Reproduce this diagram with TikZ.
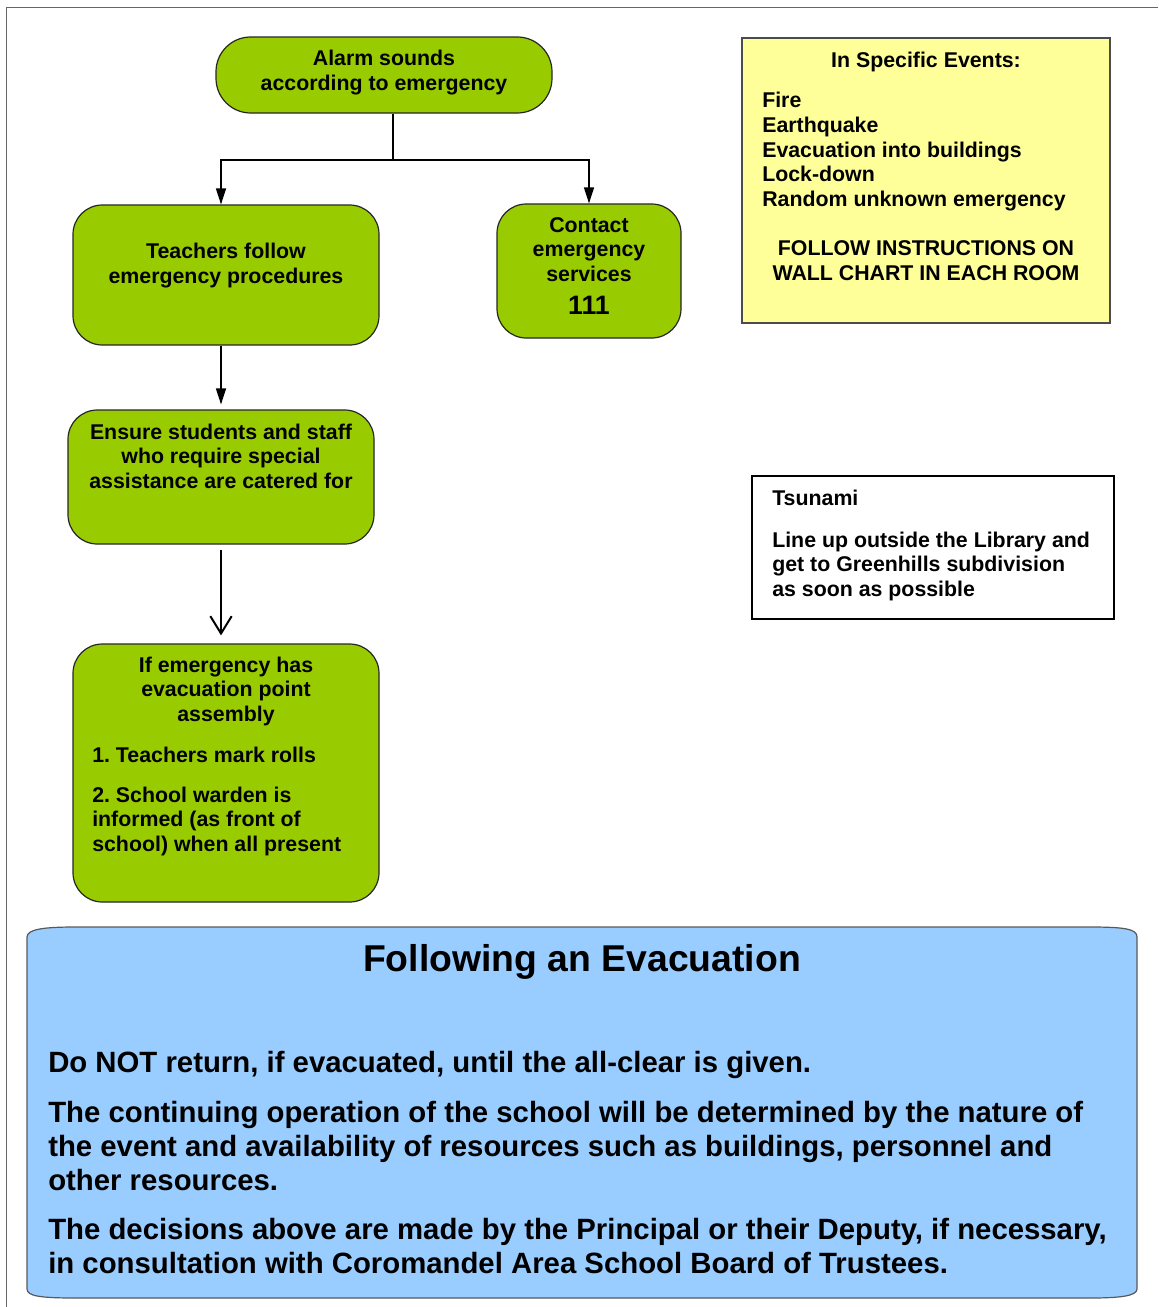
\documentclass[tikz,border=0pt]{standalone}
\usepackage{fontspec}
\setmainfont{Liberation Sans}
\usetikzlibrary{arrows.meta}
\definecolor{grn}{HTML}{99CC00}
\definecolor{ylw}{HTML}{FFFF99}
\definecolor{blu}{HTML}{99CCFF}
\frenchspacing
\begin{document}
\begin{tikzpicture}[x=0.75pt,y=-0.75pt,
  gbox/.style={draw=black!85, fill=grn, line width=0.9pt, rounded corners=22pt, inner sep=0pt},
  sqbox/.style={draw=black!70, line width=0.9pt, inner sep=0pt},
  conn/.style={draw=black, line width=1pt},
  tipA/.style={-{Triangle[length=12pt,width=7.5pt]}},
  tipB/.style={-{Straight Barb[length=13pt,width=16pt,line width=1.5pt]}},
  tsm/.style={font=\fontsize{16}{18.4}\selectfont\bfseries, inner sep=0pt},
  tyl/.style={font=\fontsize{16}{18.56}\selectfont\bfseries, inner sep=0pt},
  tbig/.style={font=\fontsize{22}{25.5}\selectfont\bfseries, inner sep=0pt, align=left},
]
\useasboundingbox (0,0) rectangle (1158,1307);
% page frame
\draw[black!60, line width=0.75pt] (6,1307) -- (6,7) -- (1158,7);

% boxes
\node[gbox, rounded corners=26pt, minimum width=252pt, minimum height=57pt] (alarm) at (384,75) {};
\node[gbox, minimum width=229.5pt, minimum height=105pt] (teach) at (226,275) {};
\node[gbox, minimum width=138pt, minimum height=100.5pt] (contact) at (589,271) {};
\node[gbox, minimum width=229.5pt, minimum height=100.5pt] (ensure) at (221,477) {};
\node[gbox, minimum width=229.5pt, minimum height=193.5pt] (ifbox) at (226,773) {};
\node[sqbox, fill=ylw, minimum width=276pt, minimum height=213.75pt] (events) at (926,180.5) {};
\node[sqbox, draw=black, fill=white, minimum width=271.5pt, minimum height=107.25pt] (tsunami) at (933,547.5) {};

% blue tape
\draw[draw=black!65, fill=blu, line width=0.9pt]
  (27,937) .. controls (27,929) and (45,927) .. (75,927) -- (1090,927)
  .. controls (1125,927) and (1137,929) .. (1137,937) -- (1137,1289)
  .. controls (1137,1296) and (1120,1298) .. (1090,1298) -- (75,1298)
  .. controls (40,1298) and (27,1296) .. (27,1289) -- cycle;

% connectors
\coordinate (j) at (393,160);
\draw[conn] (alarm.south -| j) -- (j);
\draw[conn, tipA] (j) -| ([xshift=-3.75pt]teach.north);
\draw[conn, tipA] (j) -| (contact.north);
\draw[conn, tipA, shorten >=3.75pt] ([xshift=-3.75pt]teach.south) -- ([xshift=-3.75pt]teach.south |- ensure.north);
\draw[conn, line width=1.5pt, tipB, shorten <=3.75pt, shorten >=6pt] (ensure.south) -- (ensure.south |- ifbox.north);

% texts (base anchor = baseline of last line)
\node[tsm, align=center, anchor=base] (alarmT) at (384,90.5) {Alarm sounds\\according to emergency};
\node[tsm, align=center, anchor=base] (teachT) at (226,283) {Teachers follow\\emergency procedures};
\node[tsm, align=center, anchor=base] (contactT) at (589,281.5) {Contact\\emergency\\services};
\node[font=\fontsize{20}{24}\selectfont\bfseries, inner sep=0pt, anchor=base] (num) at (589,314.6) {111};
\node[tsm, align=center, anchor=base] (ensureT) at (221,488.5) {Ensure students and staff\\who require special\\assistance are catered for};
\node[tsm, align=center, anchor=base] (ifT) at (226,721.5) {If emergency has\\evacuation point\\assembly};
\node[tsm, align=left, anchor=base west] (ifA) at (92,762.5) {1. Teachers mark rolls};
\node[tsm, align=left, anchor=base west] (ifB) at (92,851.5) {2. School warden is\\informed (as front of\\school) when all present};

\node[tyl, anchor=base] (evH) at (926,67.5) {In Specific Events:};
\node[tyl, align=left, anchor=base west] (evL) at (762,206.5) {Fire\\Earthquake\\Evacuation into buildings\\Lock-down\\Random unknown emergency};
\node[tyl, align=center, anchor=base] (evF) at (926,280.25) {FOLLOW INSTRUCTIONS ON\\WALL CHART IN EACH ROOM};

\node[tsm, anchor=base west] (tsH) at (772,505.5) {Tsunami};
\node[tsm, align=left, anchor=base west] (tsT) at (772,596.5) {Line up outside the Library and\\get to Greenhills subdivision\\as soon as possible};

\node[font=\fontsize{28}{32}\selectfont\bfseries, inner sep=0pt, anchor=base] (title) at (582,971.4) {Following an Evacuation};
\node[tbig, anchor=base west] (p1) at (48,1072.5) {Do NOT return, if evacuated, until the all-clear is given.};
\node[tbig, anchor=base west] (p2) at (48,1190.5) {The continuing operation of the school will be determined by the nature of\\the event and availability of resources such as buildings, personnel and\\other resources.};
\node[tbig, anchor=base west] (p3) at (48,1273.5) {The decisions above are made by the Principal or their Deputy, if necessary,\\in consultation with Coromandel Area School Board of Trustees.};
\end{tikzpicture}
\end{document}
